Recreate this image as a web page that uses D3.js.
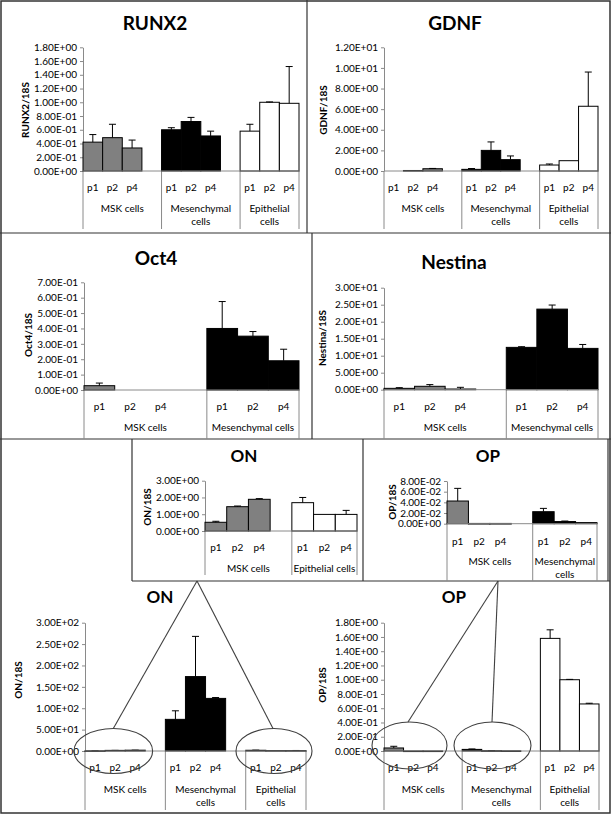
<!DOCTYPE html>
<html><head><meta charset="utf-8">
<script src="https://cdn.jsdelivr.net/npm/d3@7"></script>
<style>
body{margin:0;background:#fff}
svg{display:block}
text{font-family:Lato,"Open Sans","Liberation Sans",sans-serif;fill:#000}
</style>
</head><body>
<svg id="c" width="611" height="815"></svg>
<script>
// ---------------- DATA ----------------
const passages = ["p1", "p2", "p4"];

// RUNX2
const runx2Groups = ["MSK cells", "Mesenchymal\ncells", "Epithelial\ncells"];
const runx2Values = [[0.42, 0.485, 0.335], [0.60, 0.72, 0.51], [0.58, 1.00, 0.985]];
const runx2Errors = [[0.11, 0.195, 0.115], [0.03, 0.06, 0.07], [0.10, 0.005, 0.535]];
const runx2Ticks = [0, 0.2, 0.4, 0.6, 0.8, 1.0, 1.2, 1.4, 1.6, 1.8];

// GDNF
const gdnfGroups = ["MSK cells", "Mesenchymal\ncells", "Epithelial\ncells"];
const gdnfValues = [[0.0, 0.05, 0.22], [0.16, 2.0, 1.1], [0.58, 1.0, 6.28]];
const gdnfErrors = [[0, 0, 0.03], [0.08, 0.82, 0.36], [0.1, 0, 3.32]];
const gdnfTicks = [0, 2, 4, 6, 8, 10, 12];

// Oct4
const oct4Groups = ["MSK cells", "Mesenchymal cells"];
const oct4Values = [[0.028, 0, 0], [0.40, 0.35, 0.19]];
const oct4Errors = [[0.017, 0, 0], [0.175, 0.03, 0.075]];
const oct4Ticks = [0, 0.1, 0.2, 0.3, 0.4, 0.5, 0.6, 0.7];

// Nestina
const nestinaGroups = ["MSK cells", "Mesenchymal cells"];
const nestinaValues = [[0.4, 1.0, 0.2], [12.45, 23.7, 12.15]];
const nestinaErrors = [[0.2, 0.5, 0.5], [0.2, 1.2, 1.15]];
const nestinaTicks = [0, 5, 10, 15, 20, 25, 30];

// ON (shared MSK / Epithelial values, Mesenchymal values)
const onMskValues = [0.52, 1.45, 1.89];
const onMskErrors = [0.06, 0.04, 0.04];
const onEpiValues = [1.69, 0.99, 0.99];
const onEpiErrors = [0.31, 0, 0.24];
const onMesValues = [74, 174, 123];
const onMesErrors = [20, 94, 2];
const onInsetGroups = ["MSK cells", "Epithelial cells"];
const onInsetTicks = [0, 1, 2, 3];
const onGroups = ["MSK cells", "Mesenchymal\ncells", "Epithelial\ncells"];
const onTicks = [0, 50, 100, 150, 200, 250, 300];

// OP
const opMskValues = [0.0425, 0.0005, 0.0005];
const opMskErrors = [0.0237, 0, 0];
const opMesValues = [0.0225, 0.004, 0.002];
const opMesErrors = [0.0062, 0.001, 0];
const opEpiValues = [1.58, 1.0, 0.66];
const opEpiErrors = [0.12, 0.005, 0.01];
const opInsetGroups = ["MSK cells", "Mesenchymal\ncells"];
const opInsetTicks = [0, 0.02, 0.04, 0.06, 0.08];
const opGroups = ["MSK cells", "Mesenchymal\ncells", "Epithelial\ncells"];
const opTicks = [0, 0.2, 0.4, 0.6, 0.8, 1.0, 1.2, 1.4, 1.6, 1.8];

// ---------------- DRAWING ----------------
const svg = d3.select("#c");
const AXIS = "#8a8a8a";
const cellFill = {"MSK cells": "#808080", "Mesenchymal cells": "#000000", "Epithelial cells": "#ffffff"};

function sci(v) {
  if (Math.abs(v) < 1e-12) return "0.00E+00";
  const e = Math.floor(Math.log10(Math.abs(v)) + 1e-9);
  const m = v / Math.pow(10, e);
  return m.toFixed(2) + "E" + (e < 0 ? "-" : "+") + String(Math.abs(e)).padStart(2, "0");
}

function drawPanel(p) {
  const L = p.layout;
  const g = svg.append("g");
  const slots = [];
  p.groups.forEach((gr, gi) => {
    passages.forEach(ps => slots.push(gi + "|" + ps));
    if (gi < p.groups.length - 1) slots.push(gi + "|gap");
  });
  const x = d3.scaleBand().domain(slots).range([L.x0, L.x1]).padding(0);
  const y = d3.scaleLinear().domain([0, d3.max(p.ticks)]).range([L.y0, L.yTop]);

  // title
  g.append("text").attr("x", L.titleX).attr("y", L.titleY)
    .attr("text-anchor", "middle").attr("font-weight", "bold")
    .attr("font-size", L.titleSize).text(p.title);
  // y title
  g.append("text").attr("transform", `translate(${L.yTitleX},${L.yTitleY}) rotate(-90)`)
    .attr("text-anchor", "middle").attr("dominant-baseline", "central")
    .attr("font-weight", "bold").attr("font-size", 10).text(p.yTitle);

  // y axis
  const ax = g.append("g").attr("transform", `translate(${L.x0},0)`)
    .call(d3.axisLeft(y).tickValues(p.ticks).tickFormat(sci).tickSize(3).tickSizeOuter(0).tickPadding(3));
  ax.select(".domain").attr("stroke", AXIS);
  ax.selectAll(".tick line").attr("stroke", AXIS);
  ax.selectAll(".tick text").attr("font-size", 10).attr("font-family", "Lato,'Open Sans',sans-serif").attr("fill", "#000");

  // separators
  const seps = p.groups.map((gr, gi) => x(gi + "|p1"));
  seps.push(L.x1);
  seps.forEach(sx => g.append("line").attr("x1", sx).attr("x2", sx)
    .attr("y1", L.y0).attr("y2", L.sepBottom).attr("stroke", AXIS));

  // bars
  p.groups.forEach((gr, gi) => {
    const key = gr.replace("\n", " ");
    passages.forEach((ps, pi) => {
      const v = p.values[gi][pi];
      const e = p.errors[gi][pi];
      const sx = x(gi + "|" + ps);
      const bw = x.bandwidth();
      if (v > 0) {
        g.append("rect").attr("x", sx).attr("width", bw)
          .attr("y", y(v)).attr("height", Math.max(0.6, L.y0 - y(v)))
          .attr("fill", cellFill[key]).attr("stroke", "#000").attr("stroke-width", 1);
      }
      if (e > 0) {
        const cx = sx + bw / 2;
        g.append("line").attr("x1", cx).attr("x2", cx).attr("y1", y(v)).attr("y2", y(v + e)).attr("stroke", "#000");
        g.append("line").attr("x1", cx - 3.5).attr("x2", cx + 3.5).attr("y1", y(v + e)).attr("y2", y(v + e)).attr("stroke", "#000");
      }
      g.append("text").attr("x", sx + bw / 2).attr("y", L.pY).attr("text-anchor", "middle")
        .attr("font-size", 10).text(ps);
    });
    const gx0 = x(gi + "|p1");
    const gx1 = gi < p.groups.length - 1 ? x((gi + 1) + "|p1") : L.x1;
    gr.split("\n").forEach((line, li) => {
      g.append("text").attr("x", (gx0 + gx1) / 2).attr("y", L.gY + li * 13.5)
        .attr("text-anchor", "middle").attr("font-size", 10).text(line);
    });
  });

  // x baseline
  g.append("line").attr("x1", L.x0).attr("x2", L.x1).attr("y1", L.y0).attr("y2", L.y0).attr("stroke", AXIS);
  return {x, y};
}

// ---------------- FRAMES ----------------
const F = "#333";
function ln(x1, y1, x2, y2, w) {
  svg.append("line").attr("x1", x1).attr("y1", y1).attr("x2", x2).attr("y2", y2)
    .attr("stroke", F).attr("stroke-width", w || 1.2);
}
svg.append("rect").attr("x", 1).attr("y", 1).attr("width", 609).attr("height", 812)
  .attr("fill", "none").attr("stroke", F).attr("stroke-width", 1.5);
ln(0, 233, 611, 233);
ln(307, 0, 307, 233);
ln(312, 233, 312, 439);
ln(0, 439, 611, 439);
ln(132, 439, 132, 581);
ln(363, 439, 363, 581);
ln(608, 439, 608, 581);
ln(132, 581, 610, 581);

// ---------------- PANELS ----------------
drawPanel({title: "RUNX2", yTitle: "RUNX2/18S", groups: runx2Groups, values: runx2Values, errors: runx2Errors, ticks: runx2Ticks,
  layout: {x0: 83, x1: 299, y0: 171, yTop: 47.3, titleX: 155, titleY: 30, titleSize: 19, yTitleX: 25, yTitleY: 110, pY: 190.5, gY: 211.5, sepBottom: 229}});
drawPanel({title: "GDNF", yTitle: "GDNF/18S", groups: gdnfGroups, values: gdnfValues, errors: gdnfErrors, ticks: gdnfTicks,
  layout: {x0: 384, x1: 598, y0: 171, yTop: 47.3, titleX: 455, titleY: 30, titleSize: 19, yTitleX: 323, yTitleY: 110, pY: 190.5, gY: 211.5, sepBottom: 229}});
drawPanel({title: "Oct4", yTitle: "Oct4/18S", groups: oct4Groups, values: oct4Values, errors: oct4Errors, ticks: oct4Ticks,
  layout: {x0: 84, x1: 299, y0: 390, yTop: 282.3, titleX: 156, titleY: 265, titleSize: 19, yTitleX: 28, yTitleY: 335, pY: 410, gY: 431, sepBottom: 439}});
drawPanel({title: "Nestina", yTitle: "Nestina/18S", groups: nestinaGroups, values: nestinaValues, errors: nestinaErrors, ticks: nestinaTicks,
  layout: {x0: 384, x1: 598, y0: 389.7, yTop: 287.7, titleX: 454, titleY: 269, titleSize: 19, yTitleX: 322, yTitleY: 338, pY: 410, gY: 431, sepBottom: 439}});
drawPanel({title: "ON", yTitle: "ON/18S", groups: onInsetGroups, values: [onMskValues, onEpiValues], errors: [onMskErrors, onEpiErrors], ticks: onInsetTicks,
  layout: {x0: 205, x1: 357, y0: 531, yTop: 480.7, titleX: 244, titleY: 462, titleSize: 17, yTitleX: 147, yTitleY: 507, pY: 550.5, gY: 571.5, sepBottom: 575}});
drawPanel({title: "OP", yTitle: "OP/18S", groups: opInsetGroups, values: [opMskValues, opMesValues], errors: [opMskErrors, opMesErrors], ticks: opInsetTicks,
  layout: {x0: 447, x1: 597, y0: 523.7, yTop: 481, titleX: 488, titleY: 462, titleSize: 17, yTitleX: 392, yTitleY: 502, pY: 544.5, gY: 564.5, sepBottom: 581}});
const onB = drawPanel({title: "ON", yTitle: "ON/18S", groups: onGroups, values: [onMskValues, onMesValues, onEpiValues], errors: [onMskErrors, onMesErrors, onEpiErrors], ticks: onTicks,
  layout: {x0: 85, x1: 306, y0: 751, yTop: 622.7, titleX: 160, titleY: 603, titleSize: 17, yTitleX: 18, yTitleY: 680, pY: 770.5, gY: 792.5, sepBottom: 810}});
const opB = drawPanel({title: "OP", yTitle: "OP/18S", groups: opGroups, values: [opMskValues, opMesValues, opEpiValues], errors: [opMskErrors, opMesErrors, opEpiErrors], ticks: opTicks,
  layout: {x0: 384, x1: 599, y0: 751, yTop: 622.7, titleX: 454, titleY: 603, titleSize: 17, yTitleX: 322, yTitleY: 685, pY: 770.5, gY: 792.5, sepBottom: 810}});

// ---------------- CALLOUTS ----------------
const C = "#404040";
function ell(cx, cy, rx, ry) {
  svg.append("ellipse").attr("cx", cx).attr("cy", cy).attr("rx", rx).attr("ry", ry)
    .attr("fill", "none").attr("stroke", C).attr("stroke-width", 1.1);
}
function cl(x1, y1, x2, y2) {
  svg.append("line").attr("x1", x1).attr("y1", y1).attr("x2", x2).attr("y2", y2)
    .attr("stroke", C).attr("stroke-width", 1.1);
}
const onY0 = onB.y(0), opY0 = opB.y(0);
ell(113.3, onY0, 39.3, 22.5);
ell(274, onY0, 38, 22.5);
cl(113.3, onY0 - 22.5, 197, 581);
cl(273, onY0 - 22.5, 197, 581);
ell(409.5, opY0 - 5.5, 37.5, 23.5);
ell(492.5, opY0 - 5.5, 38.5, 23.5);
cl(408, opY0 - 29, 498, 581);
cl(492, opY0 - 29, 498, 581);
</script>
</body></html>
